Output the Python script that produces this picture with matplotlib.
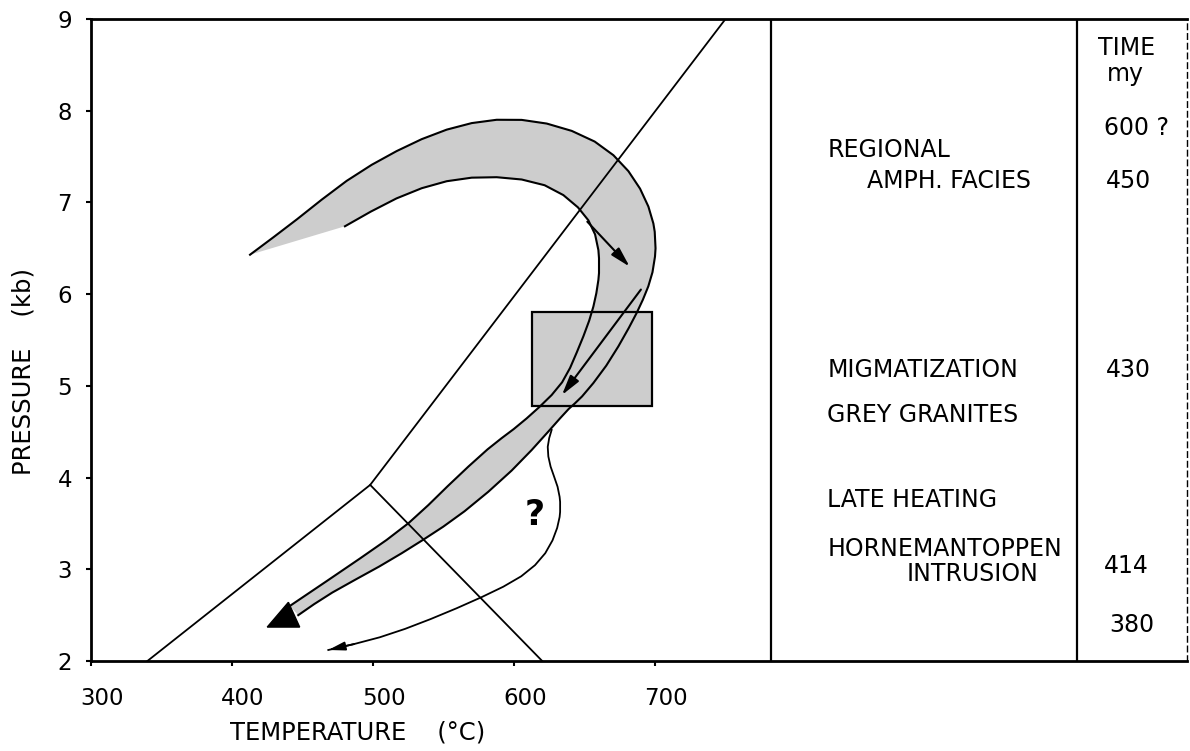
import numpy as np
import matplotlib
matplotlib.use("Agg")
import matplotlib.pyplot as plt
from matplotlib.path import Path
from matplotlib.patches import Polygon, Rectangle
from matplotlib.transforms import ScaledTranslation

# --- values (T in degC, P in kb) ---
x_ticks = [300, 400, 500, 600, 700]
y_ticks = [2, 3, 4, 5, 6, 7, 8, 9]

# reaction lines meeting at the kink
line_a_T = [340, 498, 750]
line_a_P = [2.0, 3.92, 9.0]
line_b_T = [498, 620]
line_b_P = [3.92, 2.0]

# P-T path band: outer (upper/right) and inner (lower/left) edges
outer_T = [412.8, 445.9, 481.3, 516.8, 552.3, 587.7, 623.2, 658.7, 682.3, 696.5,
           701.2, 698.8, 691.7, 682.3, 665.7, 646.8, 639.7, 625.5, 599.5, 564.0,
           535.7, 505.0, 469.5, 447.0]
outer_P = [6.43, 6.81, 7.25, 7.57, 7.81, 7.92, 7.88, 7.68, 7.35, 6.95,
           6.59, 6.23, 5.94, 5.65, 5.21, 4.85, 4.77, 4.52, 4.08, 3.61,
           3.32, 3.03, 2.74, 2.50]
inner_T = [480.1, 516.8, 552.3, 587.7, 623.2, 646.8, 658.7, 661.0, 658.7, 653.9,
           644.5, 635.0, 618.4, 599.5, 583.0, 552.3, 526.2, 493.1, 441.0]
inner_P = [6.74, 7.06, 7.25, 7.29, 7.21, 6.95, 6.66, 6.30, 6.01, 5.72,
           5.36, 5.03, 4.77, 4.52, 4.34, 3.90, 3.50, 3.14, 2.60]

# migmatization box
box_T = [613, 698]
box_P = [4.78, 5.80]

# arrows drawn inside the band
arrow1_T = [652, 682]
arrow1_P = [6.79, 6.30]
arrow2_T = [690, 634]
arrow2_P = [6.05, 4.90]

# big arrowhead closing the band
head_T = [425, 440, 448]
head_P = [2.37, 2.64, 2.37]

# late heating path (marked "?")
late_T = [626.7, 623.2, 625.5, 631.4, 633.3, 631.4, 623.2, 606.6, 578.2, 540.4, 505.0, 468.3]
late_P = [4.52, 4.34, 4.12, 3.90, 3.68, 3.46, 3.17, 2.92, 2.70, 2.45, 2.25, 2.12]

# right-hand panel
events = ["REGIONAL", "AMPH. FACIES", "MIGMATIZATION", "GREY GRANITES",
          "LATE HEATING", "HORNEMANTOPPEN", "INTRUSION"]
ages = ["TIME", "my", "600 ?", "450", "430", "414", "380"]

GRAY = "#cdcdcd"


def smooth(xs, ys):
    """Polyline of a quadratic-Bezier chain through the midpoints of the points."""
    pts = np.column_stack([xs, ys]).astype(float)
    mids = (pts[:-1] + pts[1:]) / 2
    verts = [pts[0], mids[0]]
    codes = [Path.MOVETO, Path.LINETO]
    for i in range(1, len(pts) - 1):
        verts += [pts[i], mids[i]]
        codes += [Path.CURVE3, Path.CURVE3]
    verts.append(pts[-1])
    codes.append(Path.LINETO)
    return Path(verts, codes).to_polygons(closed_only=False)[0]


fig = plt.figure(figsize=(11.9, 7.51), dpi=100)
ax = fig.add_axes([91 / 1190, 90 / 751, 1096 / 1190, 642 / 751])
ax.set_xlim(300, 1077.3)
ax.set_ylim(2, 9)

# box + band
ax.add_patch(Rectangle((box_T[0], box_P[0]), box_T[1] - box_T[0], box_P[1] - box_P[0],
                       facecolor=GRAY, edgecolor="none", zorder=1))
outer = smooth(outer_T, outer_P)
inner = smooth(inner_T, inner_P)
ax.add_patch(Polygon(np.vstack([outer, inner[::-1]]), closed=True,
                     facecolor=GRAY, edgecolor="none", zorder=1.5))
ax.plot(outer[:, 0], outer[:, 1], color="k", lw=1.5, zorder=2)
ax.plot(inner[:, 0], inner[:, 1], color="k", lw=1.5, zorder=2)
ax.add_patch(Rectangle((box_T[0], box_P[0]), box_T[1] - box_T[0], box_P[1] - box_P[0],
                       facecolor="none", edgecolor="k", lw=1.6, zorder=2.5))
ax.add_patch(Polygon(np.column_stack([head_T, head_P]), closed=True,
                     facecolor="k", edgecolor="k", lw=1, zorder=3))

# reaction lines
ax.plot(line_a_T, line_a_P, color="k", lw=1.3, zorder=3)
ax.plot(line_b_T, line_b_P, color="k", lw=1.3, zorder=3)

# arrows
arr = dict(arrowstyle="-|>,head_length=0.6,head_width=0.16", lw=1.5, color="k",
           shrinkA=0, shrinkB=0, mutation_scale=20)
ax.annotate("", xy=(arrow1_T[1], arrow1_P[1]), xytext=(arrow1_T[0], arrow1_P[0]),
            arrowprops=arr, zorder=4)
ax.annotate("", xy=(arrow2_T[1], arrow2_P[1]), xytext=(arrow2_T[0], arrow2_P[0]),
            arrowprops=arr, zorder=4)

late = smooth(late_T, late_P)
ax.plot(late[:, 0], late[:, 1], color="k", lw=1.3, zorder=3)
ax.annotate("", xy=tuple(late[-1]), xytext=tuple(late[-2]),
            arrowprops=dict(arrowstyle="-|>,head_length=0.5,head_width=0.13", lw=1.3,
                            color="k", shrinkA=0, shrinkB=0, mutation_scale=20), zorder=4)
ax.text(615, 3.59, "?", fontsize=25, fontweight="bold", ha="center", va="center")

# right panel dividers
for xv in (782, 999):
    ax.axvline(xv, color="k", lw=1.6)

ev_pos = [(822.7, 7.57), (850.1, 7.23), (822.7, 5.17), (821.8, 4.68),
          (821.8, 3.76), (822.7, 3.22), (878.4, 2.95)]
for lab, (tx, py) in zip(events, ev_pos):
    ax.text(tx, py, lab, fontsize=17, ha="left", va="center")
age_pos = [(1034.5, 8.68), (1033.3, 8.40), (1041.6, 7.81), (1035.7, 7.23),
           (1035.5, 5.17), (1034.5, 3.04), (1038.3, 2.39)]
for lab, (tx, py) in zip(ages, age_pos):
    ax.text(tx, py, lab, fontsize=17, ha="center", va="center")

# axes styling
for side in ("left", "bottom", "top"):
    ax.spines[side].set_linewidth(2)
ax.spines["right"].set_linewidth(1)
ax.spines["right"].set_linestyle((0, (4, 3)))
ax.set_xticks(x_ticks)
ax.set_yticks(y_ticks)
ax.tick_params(axis="both", direction="out", length=3.6, width=1.5, labelsize=16.5)
ax.tick_params(axis="x", pad=15)
ax.tick_params(axis="y", pad=10)
for lab in ax.get_xticklabels():
    lab.set_transform(lab.get_transform() + ScaledTranslation(0.11, 0, fig.dpi_scale_trans))

ax.set_xlabel("TEMPERATURE    (°C)", fontsize=17.5)
ax.xaxis.label.set_va("center")
ax.xaxis.set_label_coords(0.243, -0.111)
ax.set_ylabel("PRESSURE    (kb)", fontsize=17.5)
ax.yaxis.label.set_va("center")
ax.yaxis.set_label_coords(-0.062, 0.451)

fig.savefig("out.png", dpi=100)
